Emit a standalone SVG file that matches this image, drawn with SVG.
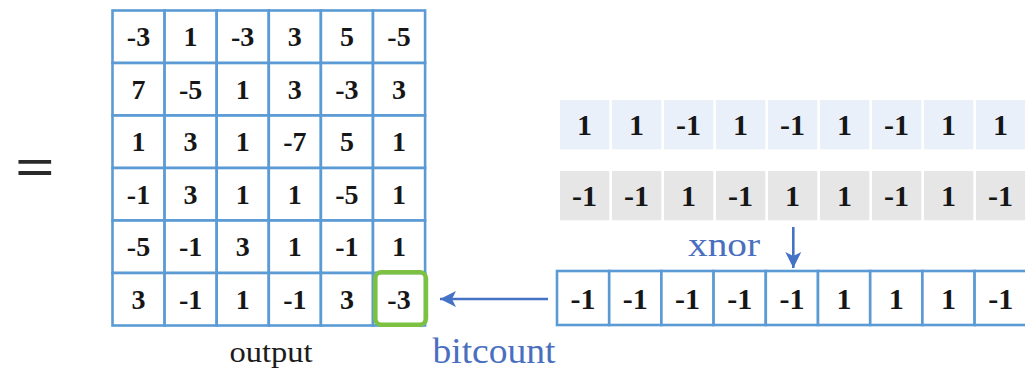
<svg xmlns="http://www.w3.org/2000/svg" width="1025" height="371" viewBox="0 0 1025 371">
  <style>
    .cell { fill: #ffffff; stroke: #5b9bd5; stroke-width: 2.6; }
    .num { font-family: "Liberation Serif", "Times New Roman", serif; font-weight: bold; fill: #161616; text-anchor: middle; }
    .g { font-size: 28px; }
    .s { font-size: 30px; }
    .w { fill: #e9f0f9; }
    .gr { fill: #e6e6e6; }
    .lbl { font-family: "Liberation Serif", "Times New Roman", serif; }
    .blue { fill: #4a6fbf; }
    .conn { stroke: #4472c4; stroke-width: 2.6; fill: none; }
  </style>
  <defs>
    <marker id="head" viewBox="0 0 18 18" refX="17" refY="9" markerWidth="18" markerHeight="18" markerUnits="userSpaceOnUse" orient="auto">
      <path d="M17,9 L1,1 L5,9 L1,17 Z" fill="#4472c4"/>
    </marker>
  </defs>

  <rect width="1025" height="371" fill="#ffffff"/>

  <!-- equals sign -->
  <text id="equals" class="lbl" transform="translate(35 184.5) scale(1.3 1)" x="0" y="0" font-size="54" font-weight="bold" fill="#2a2a2a" text-anchor="middle">=</text>

  <!-- 6x6 output matrix -->
  <g id="output-matrix">
    <g class="cells">
      <rect class="cell" x="112.5" y="10.5" width="52.1" height="52.5"/><rect class="cell" x="164.6" y="10.5" width="52.1" height="52.5"/><rect class="cell" x="216.7" y="10.5" width="52.1" height="52.5"/><rect class="cell" x="268.8" y="10.5" width="52.1" height="52.5"/><rect class="cell" x="320.9" y="10.5" width="52.1" height="52.5"/><rect class="cell" x="373" y="10.5" width="52.1" height="52.5"/>
      <rect class="cell" x="112.5" y="63" width="52.1" height="52.5"/><rect class="cell" x="164.6" y="63" width="52.1" height="52.5"/><rect class="cell" x="216.7" y="63" width="52.1" height="52.5"/><rect class="cell" x="268.8" y="63" width="52.1" height="52.5"/><rect class="cell" x="320.9" y="63" width="52.1" height="52.5"/><rect class="cell" x="373" y="63" width="52.1" height="52.5"/>
      <rect class="cell" x="112.5" y="115.5" width="52.1" height="52.5"/><rect class="cell" x="164.6" y="115.5" width="52.1" height="52.5"/><rect class="cell" x="216.7" y="115.5" width="52.1" height="52.5"/><rect class="cell" x="268.8" y="115.5" width="52.1" height="52.5"/><rect class="cell" x="320.9" y="115.5" width="52.1" height="52.5"/><rect class="cell" x="373" y="115.5" width="52.1" height="52.5"/>
      <rect class="cell" x="112.5" y="168" width="52.1" height="52.5"/><rect class="cell" x="164.6" y="168" width="52.1" height="52.5"/><rect class="cell" x="216.7" y="168" width="52.1" height="52.5"/><rect class="cell" x="268.8" y="168" width="52.1" height="52.5"/><rect class="cell" x="320.9" y="168" width="52.1" height="52.5"/><rect class="cell" x="373" y="168" width="52.1" height="52.5"/>
      <rect class="cell" x="112.5" y="220.5" width="52.1" height="52.5"/><rect class="cell" x="164.6" y="220.5" width="52.1" height="52.5"/><rect class="cell" x="216.7" y="220.5" width="52.1" height="52.5"/><rect class="cell" x="268.8" y="220.5" width="52.1" height="52.5"/><rect class="cell" x="320.9" y="220.5" width="52.1" height="52.5"/><rect class="cell" x="373" y="220.5" width="52.1" height="52.5"/>
      <rect class="cell" x="112.5" y="273" width="52.1" height="52.5"/><rect class="cell" x="164.6" y="273" width="52.1" height="52.5"/><rect class="cell" x="216.7" y="273" width="52.1" height="52.5"/><rect class="cell" x="268.8" y="273" width="52.1" height="52.5"/><rect class="cell" x="320.9" y="273" width="52.1" height="52.5"/><rect class="cell" x="373" y="273" width="52.1" height="52.5"/>
    </g>
    <g class="num g">
      <text x="138.5" y="46">-3</text><text x="190.6" y="46">1</text><text x="242.7" y="46">-3</text><text x="294.8" y="46">3</text><text x="346.9" y="46">5</text><text x="399" y="46">-5</text>
      <text x="138.5" y="98.5">7</text><text x="190.6" y="98.5">-5</text><text x="242.7" y="98.5">1</text><text x="294.8" y="98.5">3</text><text x="346.9" y="98.5">-3</text><text x="399" y="98.5">3</text>
      <text x="138.5" y="151">1</text><text x="190.6" y="151">3</text><text x="242.7" y="151">1</text><text x="294.8" y="151">-7</text><text x="346.9" y="151">5</text><text x="399" y="151">1</text>
      <text x="138.5" y="203.5">-1</text><text x="190.6" y="203.5">3</text><text x="242.7" y="203.5">1</text><text x="294.8" y="203.5">1</text><text x="346.9" y="203.5">-5</text><text x="399" y="203.5">1</text>
      <text x="138.5" y="256">-5</text><text x="190.6" y="256">-1</text><text x="242.7" y="256">3</text><text x="294.8" y="256">1</text><text x="346.9" y="256">-1</text><text x="399" y="256">1</text>
      <text x="138.5" y="308.5">3</text><text x="190.6" y="308.5">-1</text><text x="242.7" y="308.5">1</text><text x="294.8" y="308.5">-1</text><text x="346.9" y="308.5">3</text><text x="399" y="308.5">-3</text>
    </g>
    <!-- highlighted result cell -->
    <rect x="375.3" y="272.3" width="50.6" height="52.4" rx="6" fill="none" stroke="#7cc142" stroke-width="4.6"/>
    <text class="lbl" x="271" y="362" font-size="30" fill="#1c1c1c" text-anchor="middle" textLength="83" lengthAdjust="spacingAndGlyphs">output</text>
  </g>

  <!-- first binary vector -->
  <g id="vector-a">
    <rect class="w" x="560" y="100" width="49.3" height="49.3"/><rect class="w" x="612" y="100" width="49.3" height="49.3"/><rect class="w" x="664" y="100" width="49.3" height="49.3"/><rect class="w" x="716" y="100" width="49.3" height="49.3"/><rect class="w" x="768" y="100" width="49.3" height="49.3"/><rect class="w" x="820" y="100" width="49.3" height="49.3"/><rect class="w" x="872" y="100" width="49.3" height="49.3"/><rect class="w" x="924" y="100" width="49.3" height="49.3"/><rect class="w" x="976" y="100" width="49.3" height="49.3"/>
    <g class="num s">
      <text x="584.6" y="135">1</text><text x="636.6" y="135">1</text><text x="688.6" y="135">-1</text><text x="740.6" y="135">1</text><text x="792.6" y="135">-1</text><text x="844.6" y="135">1</text><text x="896.6" y="135">-1</text><text x="948.6" y="135">1</text><text x="1000.6" y="135">1</text>
    </g>
  </g>

  <!-- second binary vector -->
  <g id="vector-b">
    <rect class="gr" x="560" y="171" width="49.3" height="49.3"/><rect class="gr" x="612" y="171" width="49.3" height="49.3"/><rect class="gr" x="664" y="171" width="49.3" height="49.3"/><rect class="gr" x="716" y="171" width="49.3" height="49.3"/><rect class="gr" x="768" y="171" width="49.3" height="49.3"/><rect class="gr" x="820" y="171" width="49.3" height="49.3"/><rect class="gr" x="872" y="171" width="49.3" height="49.3"/><rect class="gr" x="924" y="171" width="49.3" height="49.3"/><rect class="gr" x="976" y="171" width="49.3" height="49.3"/>
    <g class="num s">
      <text x="584.6" y="206">-1</text><text x="636.6" y="206">-1</text><text x="688.6" y="206">1</text><text x="740.6" y="206">-1</text><text x="792.6" y="206">1</text><text x="844.6" y="206">1</text><text x="896.6" y="206">-1</text><text x="948.6" y="206">1</text><text x="1000.6" y="206">-1</text>
    </g>
  </g>

  <!-- xnor result vector -->
  <g id="xnor-result">
    <rect class="cell" x="557" y="271" width="52.2" height="54"/><rect class="cell" x="609.2" y="271" width="52.2" height="54"/><rect class="cell" x="661.4" y="271" width="52.2" height="54"/><rect class="cell" x="713.6" y="271" width="52.2" height="54"/><rect class="cell" x="765.8" y="271" width="52.2" height="54"/><rect class="cell" x="818" y="271" width="52.2" height="54"/><rect class="cell" x="870.2" y="271" width="52.2" height="54"/><rect class="cell" x="922.4" y="271" width="52.2" height="54"/><rect class="cell" x="974.6" y="271" width="52.2" height="54"/>
    <g class="num s">
      <text x="583.1" y="308.5">-1</text><text x="635.3" y="308.5">-1</text><text x="687.5" y="308.5">-1</text><text x="739.7" y="308.5">-1</text><text x="791.9" y="308.5">-1</text><text x="844.1" y="308.5">1</text><text x="896.3" y="308.5">1</text><text x="948.5" y="308.5">1</text><text x="1000.7" y="308.5">-1</text>
    </g>
  </g>

  <!-- connectors -->
  <g id="connectors">
    <line class="conn" x1="793.3" y1="227" x2="793.3" y2="268" marker-end="url(#head)"/>
    <line class="conn" x1="548" y1="299" x2="440" y2="299" marker-end="url(#head)"/>
    <text class="lbl blue" x="724" y="256" font-size="34" text-anchor="middle" textLength="72" lengthAdjust="spacingAndGlyphs">xnor</text>
    <text class="lbl blue" x="494" y="363" font-size="36" text-anchor="middle" textLength="123" lengthAdjust="spacingAndGlyphs">bitcount</text>
  </g>
</svg>
